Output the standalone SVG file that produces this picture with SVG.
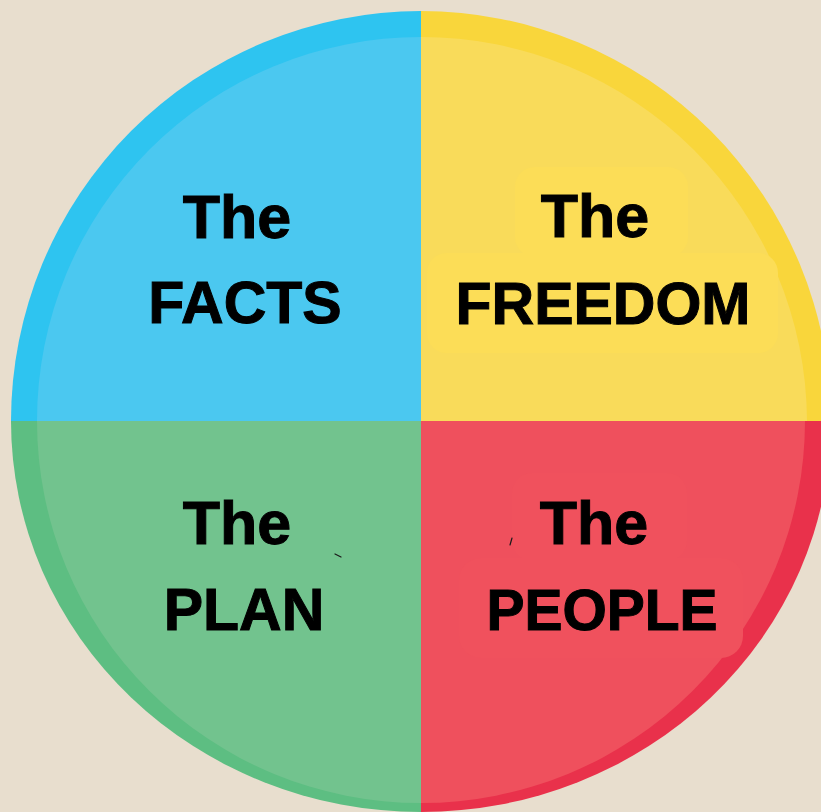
<svg xmlns="http://www.w3.org/2000/svg" width="821" height="812" viewBox="0 0 821 812">
  <style>
    .lbl { font-family: "Liberation Sans", Arial, sans-serif; font-weight: bold; fill: #000; stroke: #000; stroke-width: 1; text-anchor: middle; }
    .big { font-size: 61px; }
    .sub { font-size: 59px; }
    .mark { stroke: #1a1a1a; stroke-width: 1.2; stroke-linecap: round; fill: none; }
  </style>

  <!-- backdrop -->
  <rect x="0" y="0" width="821" height="812" fill="#E8DECE"/>

  <!-- top-left quadrant -->
  <g id="facts">
    <path d="M421,421 L11,421 A410,410 0 0 1 421,11 Z" fill="#2EC4F0"/>
    <path d="M421,421 L37,421 A384,384 0 0 1 421,37 Z" fill="#4BC8F0"/>
    <text class="lbl big" x="237" y="238">The</text>
    <text class="lbl sub" x="245" y="323">FACTS</text>
  </g>

  <!-- top-right quadrant -->
  <g id="freedom">
    <path d="M421,421 L421,11 A410,410 0 0 1 831,421 Z" fill="#F9D63B"/>
    <path d="M421,421 L421,37 A386,386 0 0 1 807,421 Z" fill="#F9DB5A"/>
    <rect x="515" y="167" width="173" height="90" rx="20" fill="#FCDD57"/>
    <rect x="427" y="253" width="351" height="100" rx="20" fill="#FCDD57"/>
    <text class="lbl big" x="595" y="237">The</text>
    <text class="lbl sub" x="603" y="324">FREEDOM</text>
  </g>

  <!-- bottom-left quadrant -->
  <g id="plan">
    <path d="M421,421 L421,812 A410,391 0 0 1 11,421 Z" fill="#5DBE82"/>
    <path d="M421,421 L421,803 A384,382 0 0 1 37,421 Z" fill="#72C38E"/>
    <text class="lbl big" x="237" y="544">The</text>
    <text class="lbl sub" x="244" y="630">PLAN</text>
    <path class="mark" d="M335,554 L341,557"/>
  </g>

  <!-- bottom-right quadrant -->
  <g id="people">
    <path d="M421,421 L831,421 A410,391 0 0 1 421,812 Z" fill="#E9314B"/>
    <path d="M421,421 L805,421 A384,382 0 0 1 421,803 Z" fill="#EF505D"/>
    <rect x="512" y="473" width="175" height="88" rx="20" fill="#F0515D"/>
    <rect x="459" y="558" width="284" height="100" rx="22" fill="#F0515D"/>
    <text class="lbl big" x="594" y="544">The</text>
    <text class="lbl sub" x="602" y="630" style="font-size:57px">PEOPLE</text>
    <path class="mark" d="M510,545 L512,538"/>
  </g>
</svg>
